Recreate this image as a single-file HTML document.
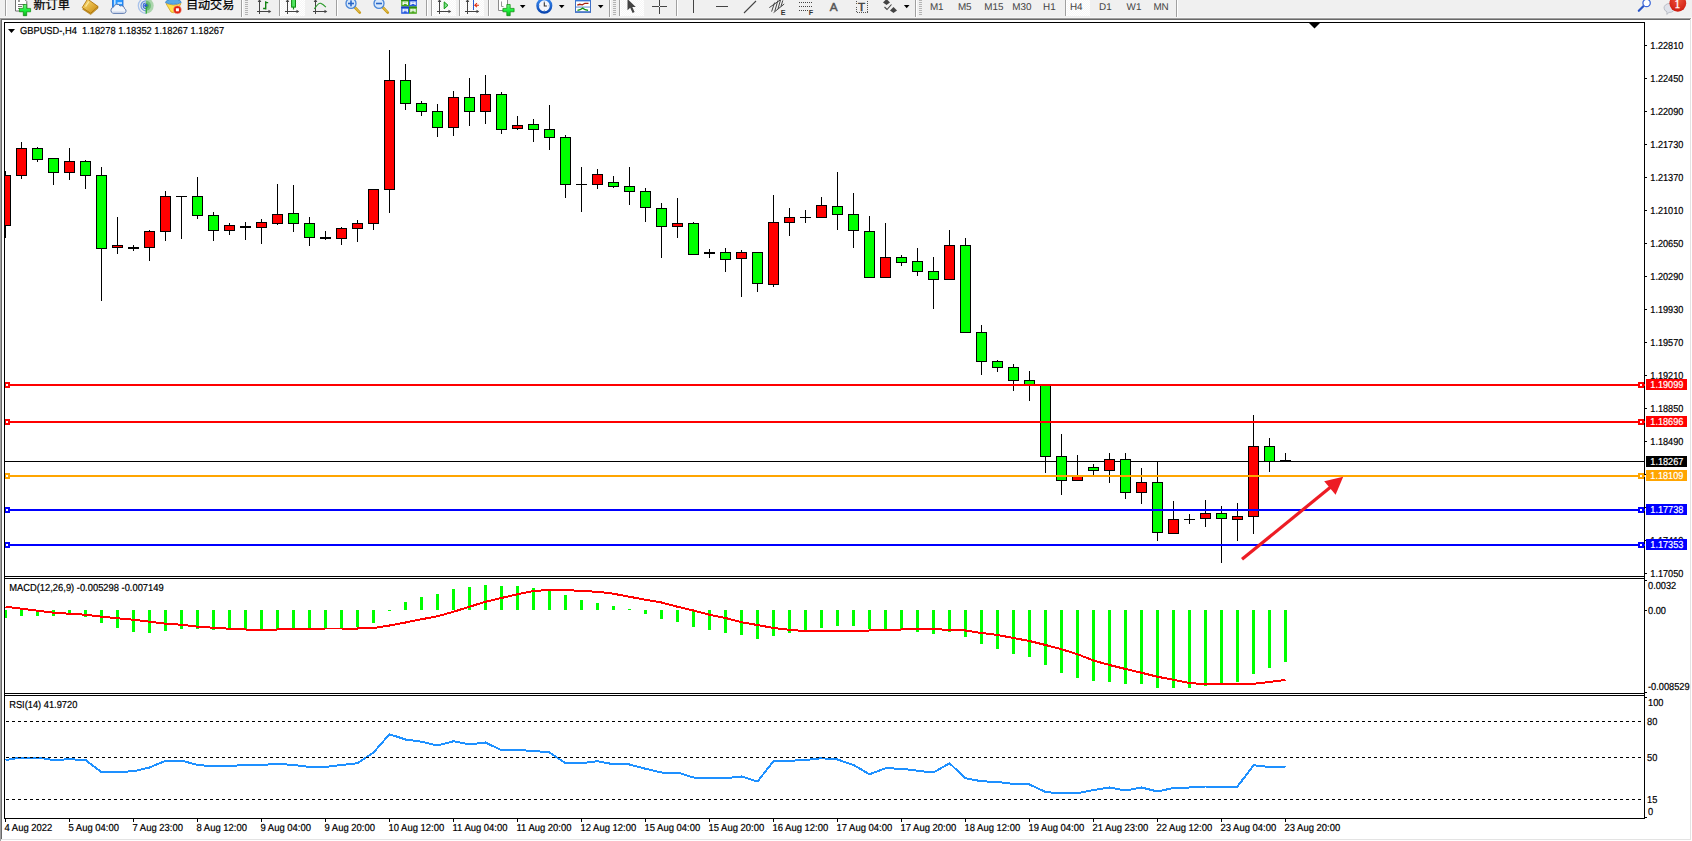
<!DOCTYPE html>
<html><head><meta charset="utf-8"><title>GBPUSD-,H4</title>
<style>
html,body{margin:0;padding:0;background:#fff;}
body{width:1692px;height:841px;overflow:hidden;position:relative;font-family:"Liberation Sans","Noto Sans CJK SC",sans-serif;}
#tb{position:absolute;left:0;top:0;width:1692px;height:17px;background:#f0f0f0;overflow:hidden;}
</style></head><body>
<div id="tb"><svg width="1692" height="17" viewBox="0 0 1692 17" style="position:absolute;left:0;top:0" font-family="Liberation Sans, Noto Sans CJK SC, sans-serif">
<defs><linearGradient id="gp" x1="0" y1="0" x2="0" y2="1"><stop offset="0" stop-color="#70f080"/><stop offset="0.55" stop-color="#18ee38"/><stop offset="1" stop-color="#10b020"/></linearGradient><linearGradient id="gold" x1="0" y1="0" x2="1" y2="1"><stop offset="0" stop-color="#ffe27a"/><stop offset="1" stop-color="#c8860a"/></linearGradient><linearGradient id="blu" x1="0" y1="0" x2="0" y2="1"><stop offset="0" stop-color="#9cc8ff"/><stop offset="1" stop-color="#2a6fd6"/></linearGradient><radialGradient id="redc" cx="0.5" cy="0.3" r="0.8"><stop offset="0" stop-color="#f0533a"/><stop offset="1" stop-color="#c8140a"/></radialGradient><pattern id="chk" width="2" height="2" patternUnits="userSpaceOnUse"><rect width="2" height="2" fill="#f6f6f6"/><rect width="1" height="1" fill="#ffffff"/><rect x="1" y="1" width="1" height="1" fill="#ffffff"/></pattern><linearGradient id="ring" x1="0" y1="0" x2="0" y2="1"><stop offset="0" stop-color="#3a8af0"/><stop offset="1" stop-color="#0a46b0"/></linearGradient></defs>
<rect x="5" y="0" width="1" height="16" fill="#a0a0a0" shape-rendering="crispEdges"/><rect x="6" y="0" width="1" height="16" fill="#ffffff" shape-rendering="crispEdges"/>
<path d="M15.5,-1v12h11.3v-9.5l-3,-3z" fill="#fff" stroke="#707070" stroke-width="1"/>
<g stroke="#777" stroke-width="1" shape-rendering="crispEdges"><rect x="17.5" y="-1" width="2.5" height="2.5" fill="#999" stroke="none"/><line x1="17.5" y1="4.5" x2="24.5" y2="4.5"/><line x1="17.5" y1="6.5" x2="22" y2="6.5"/><line x1="17.5" y1="8.5" x2="20" y2="8.5"/></g>
<path d="M23.3,4.5h3.4v3.9h3.9v3.4h-3.9v3.9h-3.4v-3.9h-3.9v-3.4h3.9z" fill="url(#gp)" stroke="#0a8a0a" stroke-width="0.7" stroke-linejoin="miter"/>
<text x="33.5" y="8.9" font-size="12.1" fill="#000" stroke="#000" stroke-width="0.25">新订单</text>
<path d="M82.2,7.6 L87.6,-1 L98.2,6.6 L90.6,13.4 Z" fill="url(#gold)" stroke="#a86a00" stroke-width="0.8" stroke-linejoin="round"/>
<path d="M83.4,8.6 L90.6,13.4 L98,6.9 L98,8.2 L90.7,14.6 L82.6,9.2Z" fill="#d9a72a" stroke="#9a6200" stroke-width="0.5"/>
<path d="M85.5,6.6 L89,1.5" stroke="#fff2b0" stroke-width="1.2" opacity="0.8"/>
<rect x="112.6" y="-2" width="10.4" height="9" fill="#2a98ff" stroke="#1a6ad8" stroke-width="0.8"/>
<rect x="114" y="-1" width="1.6" height="7" fill="#bfe0ff"/><rect x="117.5" y="2.4" width="4.5" height="1.3" fill="#fff"/>
<path d="M113.2,13.4 a3.2,3.2 0 0 1 0.3,-6.2 a3.6,3.6 0 0 1 6.6,-1.2 a3.1,3.1 0 0 1 4.4,2.6 a2.5,2.5 0 0 1 -0.7,4.8z" fill="#f2f5fa" stroke="#4f6ea8" stroke-width="0.9"/>
<path d="M112.5,12.2 h12" stroke="#c3cfe6" stroke-width="1.2"/>
<path d="M146,-2 a7.7,7.7 0 0 1 0,15.4z" fill="#9fd0a0" opacity="0.85"/><path d="M146,0.8 a5,5 0 0 1 0,10z" fill="#6fbf78"/><path d="M146,3 a2.8,2.8 0 0 1 0,5.6z" fill="#4aa75a"/>
<g fill="none"><path d="M146,-2 a7.7,7.7 0 0 0 0,15.4" stroke="#a9c2ea" stroke-width="1.3"/><path d="M146,0.8 a5,5 0 0 0 0,10" stroke="#6f97de" stroke-width="1.3"/><path d="M146,3 a2.8,2.8 0 0 0 0,5.6" stroke="#3f6fd6" stroke-width="1.2"/></g>
<circle cx="145.8" cy="5.6" r="1.7" fill="#2a5bd0"/><rect x="145.6" y="6.4" width="1.3" height="7.2" fill="#2fa83a"/>
<path d="M166,3.6 q7.5,3 15,0 l-5.2,8.4 q-2.4,1.4 -4.8,0z" fill="#ffe04a" stroke="#d09a10" stroke-width="0.7"/>
<path d="M165.4,2.6 q0.4,-2.2 3.6,-2.8 q1.4,-2 4.6,-1.8 q3.6,0.2 4.4,1.8 q3,0.6 3.2,2.8 q-7.8,3.4 -15.8,0z" fill="#58a8e4" stroke="#2f7cc4" stroke-width="0.7"/>
<circle cx="177.4" cy="9.8" r="4" fill="#e02410" stroke="#f6d0c0" stroke-width="0.4"/><rect x="175.9" y="8.3" width="3" height="3" fill="#fff"/>
<text x="185.9" y="8.9" font-size="12.1" fill="#000" stroke="#000" stroke-width="0.25">自动交易</text>
<rect x="241" y="0" width="1" height="17" fill="#a0a0a0" shape-rendering="crispEdges"/><rect x="242" y="0" width="1" height="17" fill="#ffffff" shape-rendering="crispEdges"/>
<rect x="245" y="0" width="3" height="1" fill="#b4b4b4" shape-rendering="crispEdges"/>
<rect x="245" y="2" width="3" height="1" fill="#b4b4b4" shape-rendering="crispEdges"/>
<rect x="245" y="4" width="3" height="1" fill="#b4b4b4" shape-rendering="crispEdges"/>
<rect x="245" y="6" width="3" height="1" fill="#b4b4b4" shape-rendering="crispEdges"/>
<rect x="245" y="8" width="3" height="1" fill="#b4b4b4" shape-rendering="crispEdges"/>
<rect x="245" y="10" width="3" height="1" fill="#b4b4b4" shape-rendering="crispEdges"/>
<rect x="245" y="12" width="3" height="1" fill="#b4b4b4" shape-rendering="crispEdges"/>
<rect x="245" y="14" width="3" height="1" fill="#b4b4b4" shape-rendering="crispEdges"/>
<g stroke="#444" stroke-width="1" shape-rendering="crispEdges"><line x1="259.5" y1="0" x2="259.5" y2="14"/><line x1="257" y1="11.5" x2="269" y2="11.5"/></g>
<polygon points="268.5,9.7 271.3,11.5 268.5,13.3" fill="#444"/><polygon points="257.7,2 259.5,-1 261.3,2" fill="#444"/>
<path d="M265.7,1.2v8.4 M265.7,2.6h2.5 M265.7,8.5h-2.6" stroke="#128212" stroke-width="1.4" fill="none"/>
<rect x="279" y="0" width="1" height="16" fill="#a0a0a0" shape-rendering="crispEdges"/><rect x="280" y="0" width="1" height="16" fill="#ffffff" shape-rendering="crispEdges"/>
<rect x="281" y="0" width="24" height="16" fill="url(#chk)"/>
<g stroke="#444" stroke-width="1" shape-rendering="crispEdges"><line x1="287.5" y1="0" x2="287.5" y2="14"/><line x1="285" y1="11.5" x2="297" y2="11.5"/></g>
<polygon points="296.5,9.7 299.3,11.5 296.5,13.3" fill="#444"/><polygon points="285.7,2 287.5,-1 289.3,2" fill="#444"/>
<line x1="293.5" y1="-1" x2="293.5" y2="9.5" stroke="#0f8a0f" stroke-width="1.2"/><rect x="291.6" y="-0.5" width="3.9" height="7.6" fill="#4fe45f" stroke="#0f8a0f" stroke-width="1"/>
<g stroke="#444" stroke-width="1" shape-rendering="crispEdges"><line x1="315.5" y1="0" x2="315.5" y2="14"/><line x1="313" y1="11.5" x2="325" y2="11.5"/></g>
<polygon points="324.5,9.7 327.3,11.5 324.5,13.3" fill="#444"/><polygon points="313.7,2 315.5,-1 317.3,2" fill="#444"/>
<path d="M314.4,8.8 Q318.6,2.6 320.6,3.3 T325.9,7.1" fill="none" stroke="#2a9a2a" stroke-width="1.2"/>
<rect x="336" y="0" width="1" height="16" fill="#a0a0a0" shape-rendering="crispEdges"/><rect x="337" y="0" width="1" height="16" fill="#ffffff" shape-rendering="crispEdges"/>
<line x1="354.5" y1="7" x2="359.8" y2="12.6" stroke="#c89a18" stroke-width="2.6" stroke-linecap="round"/>
<line x1="354.8" y1="7.2" x2="359.6" y2="12.2" stroke="#f0d060" stroke-width="1"/>
<circle cx="351" cy="3.4" r="5" fill="#d8e8fa" stroke="#4a86d8" stroke-width="1.3"/>
<rect x="348" y="2.7" width="6" height="1.6" fill="#2a66c8"/>
<rect x="350.2" y="0.4" width="1.6" height="6" fill="#2a66c8"/>
<line x1="382.5" y1="7" x2="387.8" y2="12.6" stroke="#c89a18" stroke-width="2.6" stroke-linecap="round"/>
<line x1="382.8" y1="7.2" x2="387.6" y2="12.2" stroke="#f0d060" stroke-width="1"/>
<circle cx="379" cy="3.4" r="5" fill="#d8e8fa" stroke="#4a86d8" stroke-width="1.3"/>
<rect x="376" y="2.7" width="6" height="1.6" fill="#2a66c8"/>
<rect x="401.2" y="-0.6" width="7.8" height="7.2" fill="#4aa81c"/><rect x="401.2" y="-0.6" width="7.8" height="1.6" fill="#2f8a10"/>
<path d="M402.5,5.0v-3.4h5.4v3.4h-1.2v-0.9h-3v0.9z" fill="#fff"/><rect x="403.7" y="2.4" width="3" height="0.8" fill="#4aa81c" opacity="0.6"/>
<rect x="409" y="-0.6" width="7.8" height="7.2" fill="#2a5ce0"/><rect x="409" y="-0.6" width="7.8" height="1.6" fill="#1840c0"/>
<path d="M410.3,5.0v-3.4h5.4v3.4h-1.2v-0.9h-3v0.9z" fill="#fff"/><rect x="411.5" y="2.4" width="3" height="0.8" fill="#2a5ce0" opacity="0.6"/>
<rect x="401.2" y="6.6" width="7.8" height="7.2" fill="#2a5ce0"/><rect x="401.2" y="6.6" width="7.8" height="1.6" fill="#1840c0"/>
<path d="M402.5,12.2v-3.4h5.4v3.4h-1.2v-0.9h-3v0.9z" fill="#fff"/><rect x="403.7" y="9.6" width="3" height="0.8" fill="#2a5ce0" opacity="0.6"/>
<rect x="409" y="6.6" width="7.8" height="7.2" fill="#4aa81c"/><rect x="409" y="6.6" width="7.8" height="1.6" fill="#2f8a10"/>
<path d="M410.3,12.2v-3.4h5.4v3.4h-1.2v-0.9h-3v0.9z" fill="#fff"/><rect x="411.5" y="9.6" width="3" height="0.8" fill="#4aa81c" opacity="0.6"/>
<rect x="426" y="0" width="1" height="16" fill="#a0a0a0" shape-rendering="crispEdges"/><rect x="427" y="0" width="1" height="16" fill="#ffffff" shape-rendering="crispEdges"/>
<rect x="431" y="0" width="1" height="16" fill="#a0a0a0" shape-rendering="crispEdges"/><rect x="432" y="0" width="1" height="16" fill="#ffffff" shape-rendering="crispEdges"/>
<rect x="433" y="0" width="23" height="16" fill="url(#chk)"/>
<g stroke="#444" stroke-width="1" shape-rendering="crispEdges"><line x1="439.5" y1="0" x2="439.5" y2="14"/><line x1="437" y1="11.5" x2="449" y2="11.5"/></g>
<polygon points="448.5,9.7 451.3,11.5 448.5,13.3" fill="#444"/><polygon points="437.7,2 439.5,-1 441.3,2" fill="#444"/>
<polygon points="444.2,1.9 444.2,8.8 448,5.3" fill="#7be08a" stroke="#109a10" stroke-width="1"/>
<rect x="459" y="0" width="1" height="16" fill="#a0a0a0" shape-rendering="crispEdges"/><rect x="460" y="0" width="1" height="16" fill="#ffffff" shape-rendering="crispEdges"/>
<rect x="461" y="0" width="23" height="16" fill="url(#chk)"/>
<g stroke="#444" stroke-width="1" shape-rendering="crispEdges"><line x1="467.5" y1="0" x2="467.5" y2="14"/><line x1="465" y1="11.5" x2="477" y2="11.5"/></g>
<polygon points="476.5,9.7 479.3,11.5 476.5,13.3" fill="#444"/><polygon points="465.7,2 467.5,-1 469.3,2" fill="#444"/>
<rect x="473" y="0" width="1" height="10" fill="#2a5bd0" shape-rendering="crispEdges"/>
<path d="M479,5.2h-3.5 M477,3.2l-2.2,2l2.2,2" fill="none" stroke="#e03010" stroke-width="1.1"/>
<rect x="488" y="0" width="1" height="16" fill="#a0a0a0" shape-rendering="crispEdges"/><rect x="489" y="0" width="1" height="16" fill="#ffffff" shape-rendering="crispEdges"/>
<path d="M498.5,0v10.5h9v-10.5" fill="#fff" stroke="#8a8a8a" stroke-width="1"/><path d="M501.5,1.5v5h2" fill="none" stroke="#8a8a8a" stroke-width="0.9"/>
<path d="M506.8,4.5h3.4v3.9h3.9v3.4h-3.9v3.9h-3.4v-3.9h-3.9v-3.4h3.9z" fill="url(#gp)" stroke="#0a8a0a" stroke-width="0.7" stroke-linejoin="miter"/>
<polygon points="519.9,5.1 525.5,5.1 522.7,8.3" fill="#000"/>
<circle cx="544.3" cy="5.8" r="6.75" fill="#f4f6fa" stroke="url(#ring)" stroke-width="2.6"/>
<g fill="#8aa0c0"><circle cx="544.3" cy="1.2" r="0.55"/><circle cx="544.3" cy="10.4" r="0.55"/><circle cx="539.7" cy="5.8" r="0.55"/><circle cx="548.9" cy="5.8" r="0.55"/></g>
<path d="M544.3,2.2v3.8h2.6" fill="none" stroke="#333" stroke-width="1.1"/>
<polygon points="558.9,5.1 564.5,5.1 561.7,8.3" fill="#000"/>
<rect x="575.5" y="-1" width="15" height="13.2" fill="#fff" stroke="#3f6fc4" stroke-width="1"/><rect x="575" y="-1" width="16" height="2.4" fill="#3a78d8"/><rect x="575" y="11.3" width="16" height="1.4" fill="#3f6fc4"/>
<path d="M577.3,5.2l2.4,-0.9l2.6,0.6l2.6,-1.6l3.6,0" fill="none" stroke="#a82410" stroke-width="1.3"/><rect x="576" y="6.6" width="14" height="0.9" fill="#4a80d0"/>
<path d="M577.5,10.3l2.6,-0.6l2.6,-1.6l2.4,1.6l3,0.6" fill="none" stroke="#129212" stroke-width="1.3"/>
<polygon points="597.9,5.1 603.5,5.1 600.7,8.3" fill="#000"/>
<rect x="609" y="0" width="1" height="17" fill="#a0a0a0" shape-rendering="crispEdges"/><rect x="610" y="0" width="1" height="17" fill="#ffffff" shape-rendering="crispEdges"/>
<rect x="613" y="0" width="3" height="1" fill="#b4b4b4" shape-rendering="crispEdges"/>
<rect x="613" y="2" width="3" height="1" fill="#b4b4b4" shape-rendering="crispEdges"/>
<rect x="613" y="4" width="3" height="1" fill="#b4b4b4" shape-rendering="crispEdges"/>
<rect x="613" y="6" width="3" height="1" fill="#b4b4b4" shape-rendering="crispEdges"/>
<rect x="613" y="8" width="3" height="1" fill="#b4b4b4" shape-rendering="crispEdges"/>
<rect x="613" y="10" width="3" height="1" fill="#b4b4b4" shape-rendering="crispEdges"/>
<rect x="613" y="12" width="3" height="1" fill="#b4b4b4" shape-rendering="crispEdges"/>
<rect x="613" y="14" width="3" height="1" fill="#b4b4b4" shape-rendering="crispEdges"/>
<rect x="619" y="0" width="1" height="16" fill="#a0a0a0" shape-rendering="crispEdges"/><rect x="620" y="0" width="1" height="16" fill="#ffffff" shape-rendering="crispEdges"/>
<rect x="621" y="0" width="23" height="16" fill="url(#chk)"/>
<path d="M627.5,-1 L627.5,10.2 L630.2,7.8 L632.6,13 L634.6,12 L632.3,7 L635.8,7 Z" fill="#444"/>
<g stroke="#444" stroke-width="1" shape-rendering="crispEdges"><line x1="652" y1="6.5" x2="667" y2="6.5"/><line x1="659.5" y1="0" x2="659.5" y2="14"/></g><rect x="659" y="6" width="1" height="1" fill="#f0f0f0"/>
<rect x="676" y="0" width="1" height="16" fill="#a0a0a0" shape-rendering="crispEdges"/><rect x="677" y="0" width="1" height="16" fill="#ffffff" shape-rendering="crispEdges"/>
<g stroke="#444" stroke-width="1" shape-rendering="crispEdges"><line x1="693.5" y1="0" x2="693.5" y2="13"/><line x1="716" y1="6.5" x2="728" y2="6.5"/></g>
<line x1="744" y1="13" x2="756" y2="1" stroke="#444" stroke-width="1.1"/>
<g stroke="#444" stroke-width="1" fill="none"><line x1="769.3" y1="7.6" x2="781" y2="-0.6"/><line x1="773.6" y1="12.6" x2="784.2" y2="4"/><line x1="771.6" y1="11.6" x2="774.6" y2="2.6"/><line x1="774.8" y1="11.2" x2="777.8" y2="0.6"/><line x1="778" y1="8.8" x2="780.6" y2="-0.4"/><line x1="781" y1="6.4" x2="782.8" y2="0.4"/></g>
<text x="780.8" y="15" font-size="7.2" font-weight="bold" fill="#333">E</text>
<line x1="799" y1="2.5" x2="812" y2="2.5" stroke="#444" stroke-width="1" stroke-dasharray="1,1" shape-rendering="crispEdges"/>
<line x1="799" y1="6.5" x2="812" y2="6.5" stroke="#444" stroke-width="1" stroke-dasharray="1,1" shape-rendering="crispEdges"/>
<line x1="799" y1="10.5" x2="812" y2="10.5" stroke="#444" stroke-width="1" stroke-dasharray="1,1" shape-rendering="crispEdges"/>
<rect x="808" y="9" width="6" height="7" fill="#f0f0f0"/><text x="808.8" y="15" font-size="7.2" font-weight="bold" fill="#333">F</text>
<text x="829.8" y="10.5" font-size="11.8" fill="#555" stroke="#555" stroke-width="0.45">A</text>
<rect x="856.5" y="-0.5" width="11" height="13" fill="none" stroke="#555" stroke-width="1" stroke-dasharray="1,1" shape-rendering="crispEdges"/>
<text x="858" y="10.6" font-size="11.6" fill="#444" stroke="#444" stroke-width="0.55">T</text>
<polygon points="883,2.5 886.5,-1 890,2.5 886.5,5" fill="#444"/><polygon points="890,10.5 893.5,7 897,10.5 893.5,13" fill="#444"/><path d="M884.5,7l2.5,2.5l4.5,-5" fill="none" stroke="#444" stroke-width="1.1"/>
<polygon points="903.9,5.1 909.5,5.1 906.7,8.3" fill="#000"/>
<rect x="915" y="0" width="1" height="17" fill="#a0a0a0" shape-rendering="crispEdges"/><rect x="916" y="0" width="1" height="17" fill="#ffffff" shape-rendering="crispEdges"/>
<rect x="919" y="0" width="3" height="1" fill="#b4b4b4" shape-rendering="crispEdges"/>
<rect x="919" y="2" width="3" height="1" fill="#b4b4b4" shape-rendering="crispEdges"/>
<rect x="919" y="4" width="3" height="1" fill="#b4b4b4" shape-rendering="crispEdges"/>
<rect x="919" y="6" width="3" height="1" fill="#b4b4b4" shape-rendering="crispEdges"/>
<rect x="919" y="8" width="3" height="1" fill="#b4b4b4" shape-rendering="crispEdges"/>
<rect x="919" y="10" width="3" height="1" fill="#b4b4b4" shape-rendering="crispEdges"/>
<rect x="919" y="12" width="3" height="1" fill="#b4b4b4" shape-rendering="crispEdges"/>
<rect x="919" y="14" width="3" height="1" fill="#b4b4b4" shape-rendering="crispEdges"/>
<rect x="1067" y="0" width="23" height="16" fill="url(#chk)"/>
<rect x="1065" y="0" width="1" height="16" fill="#a0a0a0" shape-rendering="crispEdges"/><rect x="1066" y="0" width="1" height="16" fill="#ffffff" shape-rendering="crispEdges"/>
<text x="929.9" y="10" font-size="9.9" fill="#444" text-rendering="geometricPrecision">M1</text>
<text x="957.9" y="10" font-size="9.9" fill="#444" text-rendering="geometricPrecision">M5</text>
<text x="984.1999999999999" y="10" font-size="9.9" fill="#444" text-rendering="geometricPrecision">M15</text>
<text x="1012.1999999999999" y="10" font-size="9.9" fill="#444" text-rendering="geometricPrecision">M30</text>
<text x="1043.1000000000001" y="10" font-size="9.9" fill="#444" text-rendering="geometricPrecision">H1</text>
<text x="1069.9" y="10" font-size="9.9" fill="#444" text-rendering="geometricPrecision">H4</text>
<text x="1099.1000000000001" y="10" font-size="9.9" fill="#444" text-rendering="geometricPrecision">D1</text>
<text x="1126.6000000000001" y="10" font-size="9.9" fill="#444" text-rendering="geometricPrecision">W1</text>
<text x="1153.4" y="10" font-size="9.9" fill="#444" text-rendering="geometricPrecision">MN</text>
<rect x="1176" y="0" width="1" height="17" fill="#a0a0a0" shape-rendering="crispEdges"/><rect x="1177" y="0" width="1" height="17" fill="#ffffff" shape-rendering="crispEdges"/>
<line x1="1643.8" y1="5.8" x2="1638.8" y2="10.8" stroke="#2a56c8" stroke-width="2.2" stroke-linecap="round"/><circle cx="1646.6" cy="3" r="3.7" fill="#fff" stroke="#3a66d8" stroke-width="1.2"/>
<path d="M1664,8 a5.5,4.5 0 0 1 11,0 a5.5,4.5 0 0 1 -6,4.4 l-2.2,2 l0.2,-2.6 a5,4.5 0 0 1 -3,-3.8z" fill="#dfe2ea" stroke="#b0b4bc" stroke-width="0.8"/>
<circle cx="1677.8" cy="3.3" r="8.4" fill="url(#redc)"/>
<text x="1674.6" y="8" font-size="11.5" fill="#fff" font-family="Liberation Serif, serif" stroke="#fff" stroke-width="0.3">1</text>
</svg></div>
<svg width="1692" height="841" viewBox="0 0 1692 841" style="position:absolute;left:0;top:0" shape-rendering="crispEdges" text-rendering="geometricPrecision" font-family="Liberation Sans, sans-serif">
<rect x="0" y="17" width="1692" height="1" fill="#f6f6f6"/>
<rect x="0" y="18" width="1691" height="1" fill="#a0a0a0"/>
<rect x="1" y="19" width="1690" height="1" fill="#696969"/>
<rect x="0" y="18" width="1" height="823" fill="#a0a0a0"/>
<rect x="1" y="19" width="1" height="821" fill="#696969"/>
<rect x="1690" y="19" width="1" height="821" fill="#e3e3e3"/>
<rect x="1" y="839" width="1690" height="1" fill="#e3e3e3"/>
<rect x="4" y="22" width="1" height="797" fill="#000"/>
<rect x="1644" y="22" width="1" height="797" fill="#000"/>
<rect x="4" y="22" width="1641" height="1" fill="#000"/>
<rect x="4" y="576" width="1641" height="1" fill="#000"/>
<rect x="4" y="578" width="1641" height="1" fill="#000"/>
<rect x="4" y="693" width="1641" height="1" fill="#000"/>
<rect x="4" y="695" width="1641" height="1" fill="#000"/>
<rect x="4" y="818" width="1641" height="1" fill="#000"/>
<rect x="5" y="577" width="1639" height="1" fill="#fff"/>
<rect x="5" y="694" width="1639" height="1" fill="#fff"/>
<rect x="1645" y="577" width="1" height="1" fill="#fff"/>
<rect x="5" y="461" width="1639" height="1" fill="#000"/>
<g id="candles">
<rect x="5" y="171" width="1" height="67" fill="#000"/>
<rect x="5" y="175" width="6" height="51" fill="#000"/>
<rect x="5" y="176" width="5" height="49" fill="#ff0000"/>
<rect x="21" y="142" width="1" height="37" fill="#000"/>
<rect x="16" y="148" width="11" height="28" fill="#000"/>
<rect x="17" y="149" width="9" height="26" fill="#ff0000"/>
<rect x="37" y="147" width="1" height="15" fill="#000"/>
<rect x="32" y="148" width="11" height="12" fill="#000"/>
<rect x="33" y="149" width="9" height="10" fill="#00ff00"/>
<rect x="53" y="158" width="1" height="27" fill="#000"/>
<rect x="48" y="158" width="11" height="15" fill="#000"/>
<rect x="49" y="159" width="9" height="13" fill="#00ff00"/>
<rect x="69" y="148" width="1" height="32" fill="#000"/>
<rect x="64" y="161" width="11" height="12" fill="#000"/>
<rect x="65" y="162" width="9" height="10" fill="#ff0000"/>
<rect x="85" y="160" width="1" height="29" fill="#000"/>
<rect x="80" y="161" width="11" height="15" fill="#000"/>
<rect x="81" y="162" width="9" height="13" fill="#00ff00"/>
<rect x="101" y="167" width="1" height="134" fill="#000"/>
<rect x="96" y="175" width="11" height="74" fill="#000"/>
<rect x="97" y="176" width="9" height="72" fill="#00ff00"/>
<rect x="117" y="217" width="1" height="37" fill="#000"/>
<rect x="112" y="245" width="11" height="3" fill="#000"/>
<rect x="113" y="246" width="9" height="1" fill="#ff0000"/>
<rect x="133" y="245" width="1" height="6" fill="#000"/>
<rect x="128" y="247" width="11" height="2" fill="#000"/>
<rect x="149" y="230" width="1" height="31" fill="#000"/>
<rect x="144" y="231" width="11" height="17" fill="#000"/>
<rect x="145" y="232" width="9" height="15" fill="#ff0000"/>
<rect x="165" y="191" width="1" height="50" fill="#000"/>
<rect x="160" y="196" width="11" height="36" fill="#000"/>
<rect x="161" y="197" width="9" height="34" fill="#ff0000"/>
<rect x="181" y="196" width="1" height="43" fill="#000"/>
<rect x="176" y="196" width="11" height="1" fill="#000"/>
<rect x="197" y="177" width="1" height="42" fill="#000"/>
<rect x="192" y="196" width="11" height="20" fill="#000"/>
<rect x="193" y="197" width="9" height="18" fill="#00ff00"/>
<rect x="213" y="212" width="1" height="29" fill="#000"/>
<rect x="208" y="215" width="11" height="16" fill="#000"/>
<rect x="209" y="216" width="9" height="14" fill="#00ff00"/>
<rect x="229" y="223" width="1" height="12" fill="#000"/>
<rect x="224" y="225" width="11" height="6" fill="#000"/>
<rect x="225" y="226" width="9" height="4" fill="#ff0000"/>
<rect x="245" y="222" width="1" height="18" fill="#000"/>
<rect x="240" y="226" width="11" height="2" fill="#000"/>
<rect x="261" y="219" width="1" height="25" fill="#000"/>
<rect x="256" y="222" width="11" height="6" fill="#000"/>
<rect x="257" y="223" width="9" height="4" fill="#ff0000"/>
<rect x="277" y="184" width="1" height="41" fill="#000"/>
<rect x="272" y="214" width="11" height="10" fill="#000"/>
<rect x="273" y="215" width="9" height="8" fill="#ff0000"/>
<rect x="293" y="185" width="1" height="47" fill="#000"/>
<rect x="288" y="213" width="11" height="11" fill="#000"/>
<rect x="289" y="214" width="9" height="9" fill="#00ff00"/>
<rect x="309" y="217" width="1" height="29" fill="#000"/>
<rect x="304" y="223" width="11" height="15" fill="#000"/>
<rect x="305" y="224" width="9" height="13" fill="#00ff00"/>
<rect x="325" y="231" width="1" height="9" fill="#000"/>
<rect x="320" y="237" width="11" height="2" fill="#000"/>
<rect x="341" y="227" width="1" height="18" fill="#000"/>
<rect x="336" y="228" width="11" height="11" fill="#000"/>
<rect x="337" y="229" width="9" height="9" fill="#ff0000"/>
<rect x="357" y="220" width="1" height="22" fill="#000"/>
<rect x="352" y="223" width="11" height="6" fill="#000"/>
<rect x="353" y="224" width="9" height="4" fill="#ff0000"/>
<rect x="373" y="189" width="1" height="41" fill="#000"/>
<rect x="368" y="189" width="11" height="35" fill="#000"/>
<rect x="369" y="190" width="9" height="33" fill="#ff0000"/>
<rect x="389" y="50" width="1" height="163" fill="#000"/>
<rect x="384" y="80" width="11" height="110" fill="#000"/>
<rect x="385" y="81" width="9" height="108" fill="#ff0000"/>
<rect x="405" y="64" width="1" height="46" fill="#000"/>
<rect x="400" y="80" width="11" height="24" fill="#000"/>
<rect x="401" y="81" width="9" height="22" fill="#00ff00"/>
<rect x="421" y="101" width="1" height="15" fill="#000"/>
<rect x="416" y="103" width="11" height="9" fill="#000"/>
<rect x="417" y="104" width="9" height="7" fill="#00ff00"/>
<rect x="437" y="104" width="1" height="33" fill="#000"/>
<rect x="432" y="111" width="11" height="17" fill="#000"/>
<rect x="433" y="112" width="9" height="15" fill="#00ff00"/>
<rect x="453" y="91" width="1" height="45" fill="#000"/>
<rect x="448" y="97" width="11" height="31" fill="#000"/>
<rect x="449" y="98" width="9" height="29" fill="#ff0000"/>
<rect x="469" y="78" width="1" height="48" fill="#000"/>
<rect x="464" y="97" width="11" height="15" fill="#000"/>
<rect x="465" y="98" width="9" height="13" fill="#00ff00"/>
<rect x="485" y="75" width="1" height="49" fill="#000"/>
<rect x="480" y="94" width="11" height="18" fill="#000"/>
<rect x="481" y="95" width="9" height="16" fill="#ff0000"/>
<rect x="501" y="92" width="1" height="42" fill="#000"/>
<rect x="496" y="94" width="11" height="36" fill="#000"/>
<rect x="497" y="95" width="9" height="34" fill="#00ff00"/>
<rect x="517" y="116" width="1" height="14" fill="#000"/>
<rect x="512" y="125" width="11" height="4" fill="#000"/>
<rect x="513" y="126" width="9" height="2" fill="#ff0000"/>
<rect x="533" y="119" width="1" height="23" fill="#000"/>
<rect x="528" y="124" width="11" height="6" fill="#000"/>
<rect x="529" y="125" width="9" height="4" fill="#00ff00"/>
<rect x="549" y="105" width="1" height="45" fill="#000"/>
<rect x="544" y="129" width="11" height="9" fill="#000"/>
<rect x="545" y="130" width="9" height="7" fill="#00ff00"/>
<rect x="565" y="135" width="1" height="63" fill="#000"/>
<rect x="560" y="137" width="11" height="48" fill="#000"/>
<rect x="561" y="138" width="9" height="46" fill="#00ff00"/>
<rect x="581" y="167" width="1" height="45" fill="#000"/>
<rect x="576" y="184" width="11" height="1" fill="#000"/>
<rect x="597" y="169" width="1" height="20" fill="#000"/>
<rect x="592" y="174" width="11" height="11" fill="#000"/>
<rect x="593" y="175" width="9" height="9" fill="#ff0000"/>
<rect x="613" y="176" width="1" height="12" fill="#000"/>
<rect x="608" y="182" width="11" height="5" fill="#000"/>
<rect x="609" y="183" width="9" height="3" fill="#00ff00"/>
<rect x="629" y="167" width="1" height="38" fill="#000"/>
<rect x="624" y="186" width="11" height="6" fill="#000"/>
<rect x="625" y="187" width="9" height="4" fill="#00ff00"/>
<rect x="645" y="188" width="1" height="34" fill="#000"/>
<rect x="640" y="191" width="11" height="17" fill="#000"/>
<rect x="641" y="192" width="9" height="15" fill="#00ff00"/>
<rect x="661" y="203" width="1" height="55" fill="#000"/>
<rect x="656" y="208" width="11" height="19" fill="#000"/>
<rect x="657" y="209" width="9" height="17" fill="#00ff00"/>
<rect x="677" y="198" width="1" height="40" fill="#000"/>
<rect x="672" y="223" width="11" height="4" fill="#000"/>
<rect x="673" y="224" width="9" height="2" fill="#ff0000"/>
<rect x="693" y="222" width="1" height="33" fill="#000"/>
<rect x="688" y="223" width="11" height="32" fill="#000"/>
<rect x="689" y="224" width="9" height="30" fill="#00ff00"/>
<rect x="709" y="249" width="1" height="9" fill="#000"/>
<rect x="704" y="252" width="11" height="2" fill="#000"/>
<rect x="725" y="248" width="1" height="24" fill="#000"/>
<rect x="720" y="252" width="11" height="8" fill="#000"/>
<rect x="721" y="253" width="9" height="6" fill="#00ff00"/>
<rect x="741" y="250" width="1" height="47" fill="#000"/>
<rect x="736" y="252" width="11" height="7" fill="#000"/>
<rect x="737" y="253" width="9" height="5" fill="#ff0000"/>
<rect x="757" y="252" width="1" height="40" fill="#000"/>
<rect x="752" y="252" width="11" height="32" fill="#000"/>
<rect x="753" y="253" width="9" height="30" fill="#00ff00"/>
<rect x="773" y="195" width="1" height="92" fill="#000"/>
<rect x="768" y="222" width="11" height="63" fill="#000"/>
<rect x="769" y="223" width="9" height="61" fill="#ff0000"/>
<rect x="789" y="208" width="1" height="28" fill="#000"/>
<rect x="784" y="217" width="11" height="6" fill="#000"/>
<rect x="785" y="218" width="9" height="4" fill="#ff0000"/>
<rect x="805" y="210" width="1" height="13" fill="#000"/>
<rect x="800" y="217" width="11" height="1" fill="#000"/>
<rect x="821" y="197" width="1" height="21" fill="#000"/>
<rect x="816" y="205" width="11" height="13" fill="#000"/>
<rect x="817" y="206" width="9" height="11" fill="#ff0000"/>
<rect x="837" y="172" width="1" height="58" fill="#000"/>
<rect x="832" y="206" width="11" height="9" fill="#000"/>
<rect x="833" y="207" width="9" height="7" fill="#00ff00"/>
<rect x="853" y="193" width="1" height="55" fill="#000"/>
<rect x="848" y="214" width="11" height="17" fill="#000"/>
<rect x="849" y="215" width="9" height="15" fill="#00ff00"/>
<rect x="869" y="216" width="1" height="62" fill="#000"/>
<rect x="864" y="231" width="11" height="47" fill="#000"/>
<rect x="865" y="232" width="9" height="45" fill="#00ff00"/>
<rect x="885" y="223" width="1" height="55" fill="#000"/>
<rect x="880" y="257" width="11" height="21" fill="#000"/>
<rect x="881" y="258" width="9" height="19" fill="#ff0000"/>
<rect x="901" y="255" width="1" height="11" fill="#000"/>
<rect x="896" y="257" width="11" height="6" fill="#000"/>
<rect x="897" y="258" width="9" height="4" fill="#00ff00"/>
<rect x="917" y="248" width="1" height="28" fill="#000"/>
<rect x="912" y="261" width="11" height="11" fill="#000"/>
<rect x="913" y="262" width="9" height="9" fill="#00ff00"/>
<rect x="933" y="257" width="1" height="52" fill="#000"/>
<rect x="928" y="271" width="11" height="9" fill="#000"/>
<rect x="929" y="272" width="9" height="7" fill="#00ff00"/>
<rect x="949" y="230" width="1" height="50" fill="#000"/>
<rect x="944" y="245" width="11" height="35" fill="#000"/>
<rect x="945" y="246" width="9" height="33" fill="#ff0000"/>
<rect x="965" y="238" width="1" height="95" fill="#000"/>
<rect x="960" y="245" width="11" height="88" fill="#000"/>
<rect x="961" y="246" width="9" height="86" fill="#00ff00"/>
<rect x="981" y="325" width="1" height="50" fill="#000"/>
<rect x="976" y="332" width="11" height="30" fill="#000"/>
<rect x="977" y="333" width="9" height="28" fill="#00ff00"/>
<rect x="997" y="360" width="1" height="12" fill="#000"/>
<rect x="992" y="361" width="11" height="7" fill="#000"/>
<rect x="993" y="362" width="9" height="5" fill="#00ff00"/>
<rect x="1013" y="364" width="1" height="27" fill="#000"/>
<rect x="1008" y="367" width="11" height="14" fill="#000"/>
<rect x="1009" y="368" width="9" height="12" fill="#00ff00"/>
<rect x="1029" y="371" width="1" height="30" fill="#000"/>
<rect x="1024" y="380" width="11" height="6" fill="#000"/>
<rect x="1025" y="381" width="9" height="4" fill="#00ff00"/>
<rect x="1045" y="384" width="1" height="89" fill="#000"/>
<rect x="1040" y="384" width="11" height="73" fill="#000"/>
<rect x="1041" y="385" width="9" height="71" fill="#00ff00"/>
<rect x="1061" y="434" width="1" height="61" fill="#000"/>
<rect x="1056" y="456" width="11" height="25" fill="#000"/>
<rect x="1057" y="457" width="9" height="23" fill="#00ff00"/>
<rect x="1077" y="455" width="1" height="26" fill="#000"/>
<rect x="1072" y="476" width="11" height="5" fill="#000"/>
<rect x="1073" y="477" width="9" height="3" fill="#ff0000"/>
<rect x="1093" y="464" width="1" height="11" fill="#000"/>
<rect x="1088" y="467" width="11" height="4" fill="#000"/>
<rect x="1089" y="468" width="9" height="2" fill="#00ff00"/>
<rect x="1109" y="453" width="1" height="30" fill="#000"/>
<rect x="1104" y="459" width="11" height="12" fill="#000"/>
<rect x="1105" y="460" width="9" height="10" fill="#ff0000"/>
<rect x="1125" y="453" width="1" height="46" fill="#000"/>
<rect x="1120" y="459" width="11" height="34" fill="#000"/>
<rect x="1121" y="460" width="9" height="32" fill="#00ff00"/>
<rect x="1141" y="468" width="1" height="36" fill="#000"/>
<rect x="1136" y="482" width="11" height="11" fill="#000"/>
<rect x="1137" y="483" width="9" height="9" fill="#ff0000"/>
<rect x="1157" y="461" width="1" height="80" fill="#000"/>
<rect x="1152" y="482" width="11" height="51" fill="#000"/>
<rect x="1153" y="483" width="9" height="49" fill="#00ff00"/>
<rect x="1173" y="501" width="1" height="33" fill="#000"/>
<rect x="1168" y="519" width="11" height="15" fill="#000"/>
<rect x="1169" y="520" width="9" height="13" fill="#ff0000"/>
<rect x="1189" y="514" width="1" height="10" fill="#000"/>
<rect x="1184" y="519" width="11" height="1" fill="#000"/>
<rect x="1205" y="500" width="1" height="27" fill="#000"/>
<rect x="1200" y="513" width="11" height="6" fill="#000"/>
<rect x="1201" y="514" width="9" height="4" fill="#ff0000"/>
<rect x="1221" y="506" width="1" height="57" fill="#000"/>
<rect x="1216" y="513" width="11" height="6" fill="#000"/>
<rect x="1217" y="514" width="9" height="4" fill="#00ff00"/>
<rect x="1237" y="503" width="1" height="38" fill="#000"/>
<rect x="1232" y="516" width="11" height="4" fill="#000"/>
<rect x="1233" y="517" width="9" height="2" fill="#ff0000"/>
<rect x="1253" y="415" width="1" height="119" fill="#000"/>
<rect x="1248" y="446" width="11" height="71" fill="#000"/>
<rect x="1249" y="447" width="9" height="69" fill="#ff0000"/>
<rect x="1269" y="438" width="1" height="34" fill="#000"/>
<rect x="1264" y="446" width="11" height="16" fill="#000"/>
<rect x="1265" y="447" width="9" height="14" fill="#00ff00"/>
<rect x="1285" y="453" width="1" height="8" fill="#000"/>
<rect x="1280" y="460" width="11" height="1" fill="#000"/>
</g>
<rect x="4" y="384" width="1641" height="2" fill="#ff0000"/>
<rect x="4" y="382" width="6" height="6" fill="#ff0000"/>
<rect x="6" y="384" width="2" height="2" fill="#fff"/>
<rect x="1638" y="382" width="6" height="6" fill="#ff0000"/>
<rect x="1640" y="384" width="2" height="2" fill="#fff"/>
<rect x="4" y="421" width="1641" height="2" fill="#ff0000"/>
<rect x="4" y="419" width="6" height="6" fill="#ff0000"/>
<rect x="6" y="421" width="2" height="2" fill="#fff"/>
<rect x="1638" y="419" width="6" height="6" fill="#ff0000"/>
<rect x="1640" y="421" width="2" height="2" fill="#fff"/>
<rect x="4" y="475" width="1641" height="2" fill="#ffa500"/>
<rect x="4" y="473" width="6" height="6" fill="#ffa500"/>
<rect x="6" y="475" width="2" height="2" fill="#fff"/>
<rect x="1638" y="473" width="6" height="6" fill="#ffa500"/>
<rect x="1640" y="475" width="2" height="2" fill="#fff"/>
<rect x="4" y="509" width="1641" height="2" fill="#0000ff"/>
<rect x="4" y="507" width="6" height="6" fill="#0000ff"/>
<rect x="6" y="509" width="2" height="2" fill="#fff"/>
<rect x="1638" y="507" width="6" height="6" fill="#0000ff"/>
<rect x="1640" y="509" width="2" height="2" fill="#fff"/>
<rect x="4" y="544" width="1641" height="2" fill="#0000ff"/>
<rect x="4" y="542" width="6" height="6" fill="#0000ff"/>
<rect x="6" y="544" width="2" height="2" fill="#fff"/>
<rect x="1638" y="542" width="6" height="6" fill="#0000ff"/>
<rect x="1640" y="544" width="2" height="2" fill="#fff"/>
<g shape-rendering="geometricPrecision"><line x1="1242" y1="559.3" x2="1331" y2="486.8" stroke="#ed1c24" stroke-width="3.2"/><polygon points="1343.2,476.8 1324.2,481.2 1335.6,494.8" fill="#ed1c24"/></g>
<polygon points="1309,23 1320,23 1314.5,28.5" fill="#000" shape-rendering="geometricPrecision"/>
<polygon points="8,29 15,29 11.5,33" fill="#000" shape-rendering="geometricPrecision"/>
<rect x="5" y="610" width="2" height="8" fill="#00ff00"/>
<rect x="20" y="610" width="3" height="6" fill="#00ff00"/>
<rect x="36" y="610" width="3" height="6" fill="#00ff00"/>
<rect x="52" y="610" width="3" height="6" fill="#00ff00"/>
<rect x="68" y="610" width="3" height="5" fill="#00ff00"/>
<rect x="84" y="610" width="3" height="7" fill="#00ff00"/>
<rect x="100" y="610" width="3" height="13" fill="#00ff00"/>
<rect x="116" y="610" width="3" height="18" fill="#00ff00"/>
<rect x="132" y="610" width="3" height="22" fill="#00ff00"/>
<rect x="148" y="610" width="3" height="23" fill="#00ff00"/>
<rect x="164" y="610" width="3" height="21" fill="#00ff00"/>
<rect x="180" y="610" width="3" height="19" fill="#00ff00"/>
<rect x="196" y="610" width="3" height="19" fill="#00ff00"/>
<rect x="212" y="610" width="3" height="20" fill="#00ff00"/>
<rect x="228" y="610" width="3" height="19" fill="#00ff00"/>
<rect x="244" y="610" width="3" height="20" fill="#00ff00"/>
<rect x="260" y="610" width="3" height="20" fill="#00ff00"/>
<rect x="276" y="610" width="3" height="19" fill="#00ff00"/>
<rect x="292" y="610" width="3" height="19" fill="#00ff00"/>
<rect x="308" y="610" width="3" height="19" fill="#00ff00"/>
<rect x="324" y="610" width="3" height="18" fill="#00ff00"/>
<rect x="340" y="610" width="3" height="18" fill="#00ff00"/>
<rect x="356" y="610" width="3" height="17" fill="#00ff00"/>
<rect x="372" y="610" width="3" height="13" fill="#00ff00"/>
<rect x="388" y="610" width="3" height="1" fill="#00ff00"/>
<rect x="404" y="602" width="3" height="8" fill="#00ff00"/>
<rect x="420" y="597" width="3" height="13" fill="#00ff00"/>
<rect x="436" y="594" width="3" height="16" fill="#00ff00"/>
<rect x="452" y="589" width="3" height="21" fill="#00ff00"/>
<rect x="468" y="587" width="3" height="23" fill="#00ff00"/>
<rect x="484" y="585" width="3" height="25" fill="#00ff00"/>
<rect x="500" y="586" width="3" height="24" fill="#00ff00"/>
<rect x="516" y="586" width="3" height="24" fill="#00ff00"/>
<rect x="532" y="588" width="3" height="22" fill="#00ff00"/>
<rect x="548" y="590" width="3" height="20" fill="#00ff00"/>
<rect x="564" y="595" width="3" height="15" fill="#00ff00"/>
<rect x="580" y="600" width="3" height="10" fill="#00ff00"/>
<rect x="596" y="603" width="3" height="7" fill="#00ff00"/>
<rect x="612" y="606" width="3" height="4" fill="#00ff00"/>
<rect x="628" y="609" width="3" height="1" fill="#00ff00"/>
<rect x="644" y="610" width="3" height="4" fill="#00ff00"/>
<rect x="660" y="610" width="3" height="9" fill="#00ff00"/>
<rect x="676" y="610" width="3" height="12" fill="#00ff00"/>
<rect x="692" y="610" width="3" height="17" fill="#00ff00"/>
<rect x="708" y="610" width="3" height="20" fill="#00ff00"/>
<rect x="724" y="610" width="3" height="23" fill="#00ff00"/>
<rect x="740" y="610" width="3" height="25" fill="#00ff00"/>
<rect x="756" y="610" width="3" height="29" fill="#00ff00"/>
<rect x="772" y="610" width="3" height="26" fill="#00ff00"/>
<rect x="788" y="610" width="3" height="23" fill="#00ff00"/>
<rect x="804" y="610" width="3" height="21" fill="#00ff00"/>
<rect x="820" y="610" width="3" height="18" fill="#00ff00"/>
<rect x="836" y="610" width="3" height="16" fill="#00ff00"/>
<rect x="852" y="610" width="3" height="16" fill="#00ff00"/>
<rect x="868" y="610" width="3" height="19" fill="#00ff00"/>
<rect x="884" y="610" width="3" height="19" fill="#00ff00"/>
<rect x="900" y="610" width="3" height="19" fill="#00ff00"/>
<rect x="916" y="610" width="3" height="22" fill="#00ff00"/>
<rect x="932" y="610" width="3" height="24" fill="#00ff00"/>
<rect x="948" y="610" width="3" height="22" fill="#00ff00"/>
<rect x="964" y="610" width="3" height="27" fill="#00ff00"/>
<rect x="980" y="610" width="3" height="34" fill="#00ff00"/>
<rect x="996" y="610" width="3" height="39" fill="#00ff00"/>
<rect x="1012" y="610" width="3" height="44" fill="#00ff00"/>
<rect x="1028" y="610" width="3" height="47" fill="#00ff00"/>
<rect x="1044" y="610" width="3" height="55" fill="#00ff00"/>
<rect x="1060" y="610" width="3" height="63" fill="#00ff00"/>
<rect x="1076" y="610" width="3" height="68" fill="#00ff00"/>
<rect x="1092" y="610" width="3" height="71" fill="#00ff00"/>
<rect x="1108" y="610" width="3" height="72" fill="#00ff00"/>
<rect x="1124" y="610" width="3" height="74" fill="#00ff00"/>
<rect x="1140" y="610" width="3" height="74" fill="#00ff00"/>
<rect x="1156" y="610" width="3" height="78" fill="#00ff00"/>
<rect x="1172" y="610" width="3" height="78" fill="#00ff00"/>
<rect x="1188" y="610" width="3" height="78" fill="#00ff00"/>
<rect x="1204" y="610" width="3" height="76" fill="#00ff00"/>
<rect x="1220" y="610" width="3" height="73" fill="#00ff00"/>
<rect x="1236" y="610" width="3" height="72" fill="#00ff00"/>
<rect x="1252" y="610" width="3" height="64" fill="#00ff00"/>
<rect x="1268" y="610" width="3" height="58" fill="#00ff00"/>
<rect x="1284" y="610" width="3" height="52" fill="#00ff00"/>
<polyline points="5.5,606.75 21.5,608.75 37.5,610.75 53.5,612.75 69.5,613.75 85.5,614.75 101.5,616.75 117.5,618.25 133.5,619.75 149.5,621.75 165.5,623.75 181.5,624.75 197.5,626.75 213.5,627.75 229.5,628.75 245.5,629.5 261.5,629.75 277.5,629.5 293.5,629.0 309.5,628.75 325.5,628.5 341.5,628.5 357.5,628.5 373.5,628.0 389.5,625.5 405.5,622.5 421.5,619.25 437.5,616.25 453.5,611.75 469.5,606.75 485.5,601.75 501.5,598.0 517.5,594.25 533.5,591.0 549.5,590.0 565.5,590.0 581.5,591.0 597.5,591.75 613.5,593.75 629.5,596.75 645.5,599.75 661.5,602.5 677.5,606.75 693.5,610.5 709.5,614.75 725.5,618.0 741.5,622.25 757.5,625.0 773.5,628.0 789.5,629.75 805.5,631.25 821.5,631.25 837.5,631.25 853.5,631.25 869.5,630.5 885.5,630.25 901.5,629.5 917.5,629.25 933.5,629.25 949.5,629.75 965.5,630.5 981.5,633.0 997.5,635.0 1013.5,638.0 1029.5,641.0 1045.5,645.0 1061.5,649.25 1077.5,654.25 1093.5,660.5 1109.5,665.0 1125.5,669.0 1141.5,672.75 1157.5,676.75 1173.5,679.75 1189.5,683.0 1205.5,684.25 1221.5,684.25 1237.5,684.25 1253.5,683.75 1269.5,682.0 1285.5,680.0" fill="none" stroke="#ff0000" stroke-width="2" stroke-linejoin="round"/>
<polyline points="5.5,760.0 21.5,757.5 37.5,757.5 53.5,760.0 69.5,759.25 85.5,760.0 101.5,772.0 117.5,772.0 133.5,771.25 149.5,767.5 165.5,760.75 181.5,760.5 197.5,765.0 213.5,766.25 229.5,765.75 245.5,765.25 261.5,765.0 277.5,763.75 293.5,765.0 309.5,767.0 325.5,767.0 341.5,765.0 357.5,763.25 373.5,752.5 389.5,734.25 405.5,739.5 421.5,741.75 437.5,745.5 453.5,741.25 469.5,744.5 485.5,742.5 501.5,750.25 517.5,750.25 533.5,750.75 549.5,752.5 565.5,763.25 581.5,763.25 597.5,761.25 613.5,764.25 629.5,764.5 645.5,768.75 661.5,772.5 677.5,772.5 693.5,777.5 709.5,777.5 725.5,778.25 741.5,776.5 757.5,781.5 773.5,761.25 789.5,760.75 805.5,760.0 821.5,758.25 837.5,759.5 853.5,765.0 869.5,774.25 885.5,768.25 901.5,768.75 917.5,770.75 933.5,772.5 949.5,763.25 965.5,778.25 981.5,781.25 997.5,782.0 1013.5,784.0 1029.5,784.5 1045.5,792.0 1061.5,793.5 1077.5,793.25 1093.5,790.0 1109.5,787.5 1125.5,790.5 1141.5,787.5 1157.5,791.5 1173.5,788.0 1189.5,787.5 1205.5,786.5 1221.5,786.5 1237.5,786.5 1253.5,765.25 1269.5,767.0 1285.5,767.25" fill="none" stroke="#1e90ff" stroke-width="2" stroke-linejoin="round"/>
<line x1="6" y1="721.5" x2="1641" y2="721.5" stroke="#000" stroke-width="1" stroke-dasharray="3,3"/>
<line x1="6" y1="757.5" x2="1641" y2="757.5" stroke="#000" stroke-width="1" stroke-dasharray="3,3"/>
<line x1="6" y1="799.5" x2="1641" y2="799.5" stroke="#000" stroke-width="1" stroke-dasharray="3,3"/>
<rect x="2" y="579" width="2" height="240" fill="#fff"/>
<rect x="4" y="22" width="1" height="797" fill="#000"/>
<rect x="1645" y="45" width="2" height="1" fill="#000"/>
<text transform="translate(1650.3,49) scale(0.905,1)" font-size="10.1" fill="#000" stroke="#000" stroke-width="0.2" text-anchor="start">1.22810</text>
<rect x="1645" y="78" width="2" height="1" fill="#000"/>
<text transform="translate(1650.3,82) scale(0.905,1)" font-size="10.1" fill="#000" stroke="#000" stroke-width="0.2" text-anchor="start">1.22450</text>
<rect x="1645" y="111" width="2" height="1" fill="#000"/>
<text transform="translate(1650.3,115) scale(0.905,1)" font-size="10.1" fill="#000" stroke="#000" stroke-width="0.2" text-anchor="start">1.22090</text>
<rect x="1645" y="144" width="2" height="1" fill="#000"/>
<text transform="translate(1650.3,148) scale(0.905,1)" font-size="10.1" fill="#000" stroke="#000" stroke-width="0.2" text-anchor="start">1.21730</text>
<rect x="1645" y="177" width="2" height="1" fill="#000"/>
<text transform="translate(1650.3,181) scale(0.905,1)" font-size="10.1" fill="#000" stroke="#000" stroke-width="0.2" text-anchor="start">1.21370</text>
<rect x="1645" y="210" width="2" height="1" fill="#000"/>
<text transform="translate(1650.3,214) scale(0.905,1)" font-size="10.1" fill="#000" stroke="#000" stroke-width="0.2" text-anchor="start">1.21010</text>
<rect x="1645" y="243" width="2" height="1" fill="#000"/>
<text transform="translate(1650.3,247) scale(0.905,1)" font-size="10.1" fill="#000" stroke="#000" stroke-width="0.2" text-anchor="start">1.20650</text>
<rect x="1645" y="276" width="2" height="1" fill="#000"/>
<text transform="translate(1650.3,280) scale(0.905,1)" font-size="10.1" fill="#000" stroke="#000" stroke-width="0.2" text-anchor="start">1.20290</text>
<rect x="1645" y="309" width="2" height="1" fill="#000"/>
<text transform="translate(1650.3,313) scale(0.905,1)" font-size="10.1" fill="#000" stroke="#000" stroke-width="0.2" text-anchor="start">1.19930</text>
<rect x="1645" y="342" width="2" height="1" fill="#000"/>
<text transform="translate(1650.3,346) scale(0.905,1)" font-size="10.1" fill="#000" stroke="#000" stroke-width="0.2" text-anchor="start">1.19570</text>
<rect x="1645" y="375" width="2" height="1" fill="#000"/>
<text transform="translate(1650.3,379) scale(0.905,1)" font-size="10.1" fill="#000" stroke="#000" stroke-width="0.2" text-anchor="start">1.19210</text>
<rect x="1645" y="408" width="2" height="1" fill="#000"/>
<text transform="translate(1650.3,412) scale(0.905,1)" font-size="10.1" fill="#000" stroke="#000" stroke-width="0.2" text-anchor="start">1.18850</text>
<rect x="1645" y="441" width="2" height="1" fill="#000"/>
<text transform="translate(1650.3,445) scale(0.905,1)" font-size="10.1" fill="#000" stroke="#000" stroke-width="0.2" text-anchor="start">1.18490</text>
<rect x="1645" y="474" width="2" height="1" fill="#000"/>
<rect x="1645" y="507" width="2" height="1" fill="#000"/>
<rect x="1645" y="540" width="2" height="1" fill="#000"/>
<text transform="translate(1650.3,544) scale(0.905,1)" font-size="10.1" fill="#000" stroke="#000" stroke-width="0.2" text-anchor="start">1.17410</text>
<rect x="1645" y="573" width="2" height="1" fill="#000"/>
<text transform="translate(1650.3,577) scale(0.905,1)" font-size="10.1" fill="#000" stroke="#000" stroke-width="0.2" text-anchor="start">1.17050</text>
<rect x="1645" y="580" width="2" height="1" fill="#000"/>
<text transform="translate(1648,589) scale(0.915,1)" font-size="10.1" fill="#000" stroke="#000" stroke-width="0.2" text-anchor="start">0.0032</text>
<rect x="1645" y="610" width="2" height="1" fill="#000"/>
<text transform="translate(1648,614) scale(0.915,1)" font-size="10.1" fill="#000" stroke="#000" stroke-width="0.2" text-anchor="start">0.00</text>
<rect x="1645" y="692" width="2" height="1" fill="#000"/>
<text transform="translate(1648,690) scale(0.915,1)" font-size="10.1" fill="#000" stroke="#000" stroke-width="0.2" text-anchor="start">-0.008529</text>
<rect x="1645" y="697" width="2" height="1" fill="#000"/>
<text transform="translate(1648,706) scale(0.915,1)" font-size="10.1" fill="#000" stroke="#000" stroke-width="0.2" text-anchor="start">100</text>
<text transform="translate(1647,725) scale(0.915,1)" font-size="10.1" fill="#000" stroke="#000" stroke-width="0.2" text-anchor="start">80</text>
<text transform="translate(1647,761) scale(0.915,1)" font-size="10.1" fill="#000" stroke="#000" stroke-width="0.2" text-anchor="start">50</text>
<text transform="translate(1647,803) scale(0.915,1)" font-size="10.1" fill="#000" stroke="#000" stroke-width="0.2" text-anchor="start">15</text>
<rect x="1645" y="817" width="2" height="1" fill="#000"/>
<text transform="translate(1648,815) scale(0.915,1)" font-size="10.1" fill="#000" stroke="#000" stroke-width="0.2" text-anchor="start">0</text>
<rect x="1646" y="379" width="41" height="11" fill="#ff0000"/>
<text transform="translate(1650.3,388) scale(0.905,1)" font-size="10.1" fill="#fff" stroke="#fff" stroke-width="0.2" text-anchor="start">1.19099</text>
<rect x="1646" y="416" width="41" height="11" fill="#ff0000"/>
<text transform="translate(1650.3,425) scale(0.905,1)" font-size="10.1" fill="#fff" stroke="#fff" stroke-width="0.2" text-anchor="start">1.18696</text>
<rect x="1646" y="456" width="41" height="11" fill="#000000"/>
<text transform="translate(1650.3,465) scale(0.905,1)" font-size="10.1" fill="#fff" stroke="#fff" stroke-width="0.2" text-anchor="start">1.18267</text>
<rect x="1646" y="470" width="41" height="11" fill="#ffa500"/>
<text transform="translate(1650.3,479) scale(0.905,1)" font-size="10.1" fill="#fff" stroke="#fff" stroke-width="0.2" text-anchor="start">1.18109</text>
<rect x="1646" y="504" width="41" height="11" fill="#0000ff"/>
<text transform="translate(1650.3,513) scale(0.905,1)" font-size="10.1" fill="#fff" stroke="#fff" stroke-width="0.2" text-anchor="start">1.17738</text>
<rect x="1646" y="539" width="41" height="11" fill="#0000ff"/>
<text transform="translate(1650.3,548) scale(0.905,1)" font-size="10.1" fill="#fff" stroke="#fff" stroke-width="0.2" text-anchor="start">1.17353</text>
<rect x="5" y="819" width="1" height="3" fill="#000"/>
<text transform="translate(4.5,831) scale(0.935,1)" font-size="10.1" fill="#000" stroke="#000" stroke-width="0.2" text-anchor="start">4 Aug 2022</text>
<rect x="69" y="819" width="1" height="3" fill="#000"/>
<text transform="translate(68.5,831) scale(0.935,1)" font-size="10.1" fill="#000" stroke="#000" stroke-width="0.2" text-anchor="start">5 Aug 04:00</text>
<rect x="133" y="819" width="1" height="3" fill="#000"/>
<text transform="translate(132.5,831) scale(0.935,1)" font-size="10.1" fill="#000" stroke="#000" stroke-width="0.2" text-anchor="start">7 Aug 23:00</text>
<rect x="197" y="819" width="1" height="3" fill="#000"/>
<text transform="translate(196.5,831) scale(0.935,1)" font-size="10.1" fill="#000" stroke="#000" stroke-width="0.2" text-anchor="start">8 Aug 12:00</text>
<rect x="261" y="819" width="1" height="3" fill="#000"/>
<text transform="translate(260.5,831) scale(0.935,1)" font-size="10.1" fill="#000" stroke="#000" stroke-width="0.2" text-anchor="start">9 Aug 04:00</text>
<rect x="325" y="819" width="1" height="3" fill="#000"/>
<text transform="translate(324.5,831) scale(0.935,1)" font-size="10.1" fill="#000" stroke="#000" stroke-width="0.2" text-anchor="start">9 Aug 20:00</text>
<rect x="389" y="819" width="1" height="3" fill="#000"/>
<text transform="translate(388.5,831) scale(0.935,1)" font-size="10.1" fill="#000" stroke="#000" stroke-width="0.2" text-anchor="start">10 Aug 12:00</text>
<rect x="453" y="819" width="1" height="3" fill="#000"/>
<text transform="translate(452.5,831) scale(0.935,1)" font-size="10.1" fill="#000" stroke="#000" stroke-width="0.2" text-anchor="start">11 Aug 04:00</text>
<rect x="517" y="819" width="1" height="3" fill="#000"/>
<text transform="translate(516.5,831) scale(0.935,1)" font-size="10.1" fill="#000" stroke="#000" stroke-width="0.2" text-anchor="start">11 Aug 20:00</text>
<rect x="581" y="819" width="1" height="3" fill="#000"/>
<text transform="translate(580.5,831) scale(0.935,1)" font-size="10.1" fill="#000" stroke="#000" stroke-width="0.2" text-anchor="start">12 Aug 12:00</text>
<rect x="645" y="819" width="1" height="3" fill="#000"/>
<text transform="translate(644.5,831) scale(0.935,1)" font-size="10.1" fill="#000" stroke="#000" stroke-width="0.2" text-anchor="start">15 Aug 04:00</text>
<rect x="709" y="819" width="1" height="3" fill="#000"/>
<text transform="translate(708.5,831) scale(0.935,1)" font-size="10.1" fill="#000" stroke="#000" stroke-width="0.2" text-anchor="start">15 Aug 20:00</text>
<rect x="773" y="819" width="1" height="3" fill="#000"/>
<text transform="translate(772.5,831) scale(0.935,1)" font-size="10.1" fill="#000" stroke="#000" stroke-width="0.2" text-anchor="start">16 Aug 12:00</text>
<rect x="837" y="819" width="1" height="3" fill="#000"/>
<text transform="translate(836.5,831) scale(0.935,1)" font-size="10.1" fill="#000" stroke="#000" stroke-width="0.2" text-anchor="start">17 Aug 04:00</text>
<rect x="901" y="819" width="1" height="3" fill="#000"/>
<text transform="translate(900.5,831) scale(0.935,1)" font-size="10.1" fill="#000" stroke="#000" stroke-width="0.2" text-anchor="start">17 Aug 20:00</text>
<rect x="965" y="819" width="1" height="3" fill="#000"/>
<text transform="translate(964.5,831) scale(0.935,1)" font-size="10.1" fill="#000" stroke="#000" stroke-width="0.2" text-anchor="start">18 Aug 12:00</text>
<rect x="1029" y="819" width="1" height="3" fill="#000"/>
<text transform="translate(1028.5,831) scale(0.935,1)" font-size="10.1" fill="#000" stroke="#000" stroke-width="0.2" text-anchor="start">19 Aug 04:00</text>
<rect x="1093" y="819" width="1" height="3" fill="#000"/>
<text transform="translate(1092.5,831) scale(0.935,1)" font-size="10.1" fill="#000" stroke="#000" stroke-width="0.2" text-anchor="start">21 Aug 23:00</text>
<rect x="1157" y="819" width="1" height="3" fill="#000"/>
<text transform="translate(1156.5,831) scale(0.935,1)" font-size="10.1" fill="#000" stroke="#000" stroke-width="0.2" text-anchor="start">22 Aug 12:00</text>
<rect x="1221" y="819" width="1" height="3" fill="#000"/>
<text transform="translate(1220.5,831) scale(0.935,1)" font-size="10.1" fill="#000" stroke="#000" stroke-width="0.2" text-anchor="start">23 Aug 04:00</text>
<rect x="1285" y="819" width="1" height="3" fill="#000"/>
<text transform="translate(1284.5,831) scale(0.935,1)" font-size="10.1" fill="#000" stroke="#000" stroke-width="0.2" text-anchor="start">23 Aug 20:00</text>
<text transform="translate(20,34) scale(0.921,1)" font-size="10.1" fill="#000" stroke="#000" stroke-width="0.2" text-anchor="start" xml:space="preserve" style="white-space:pre">GBPUSD-,H4  1.18278 1.18352 1.18267 1.18267</text>
<text transform="translate(9.2,591) scale(0.927,1)" font-size="10.1" fill="#000" stroke="#000" stroke-width="0.2" text-anchor="start">MACD(12,26,9) -0.005298 -0.007149</text>
<text transform="translate(9.2,708) scale(0.92,1)" font-size="10.1" fill="#000" stroke="#000" stroke-width="0.2" text-anchor="start">RSI(14) 41.9720</text>
</svg>
</body></html>
